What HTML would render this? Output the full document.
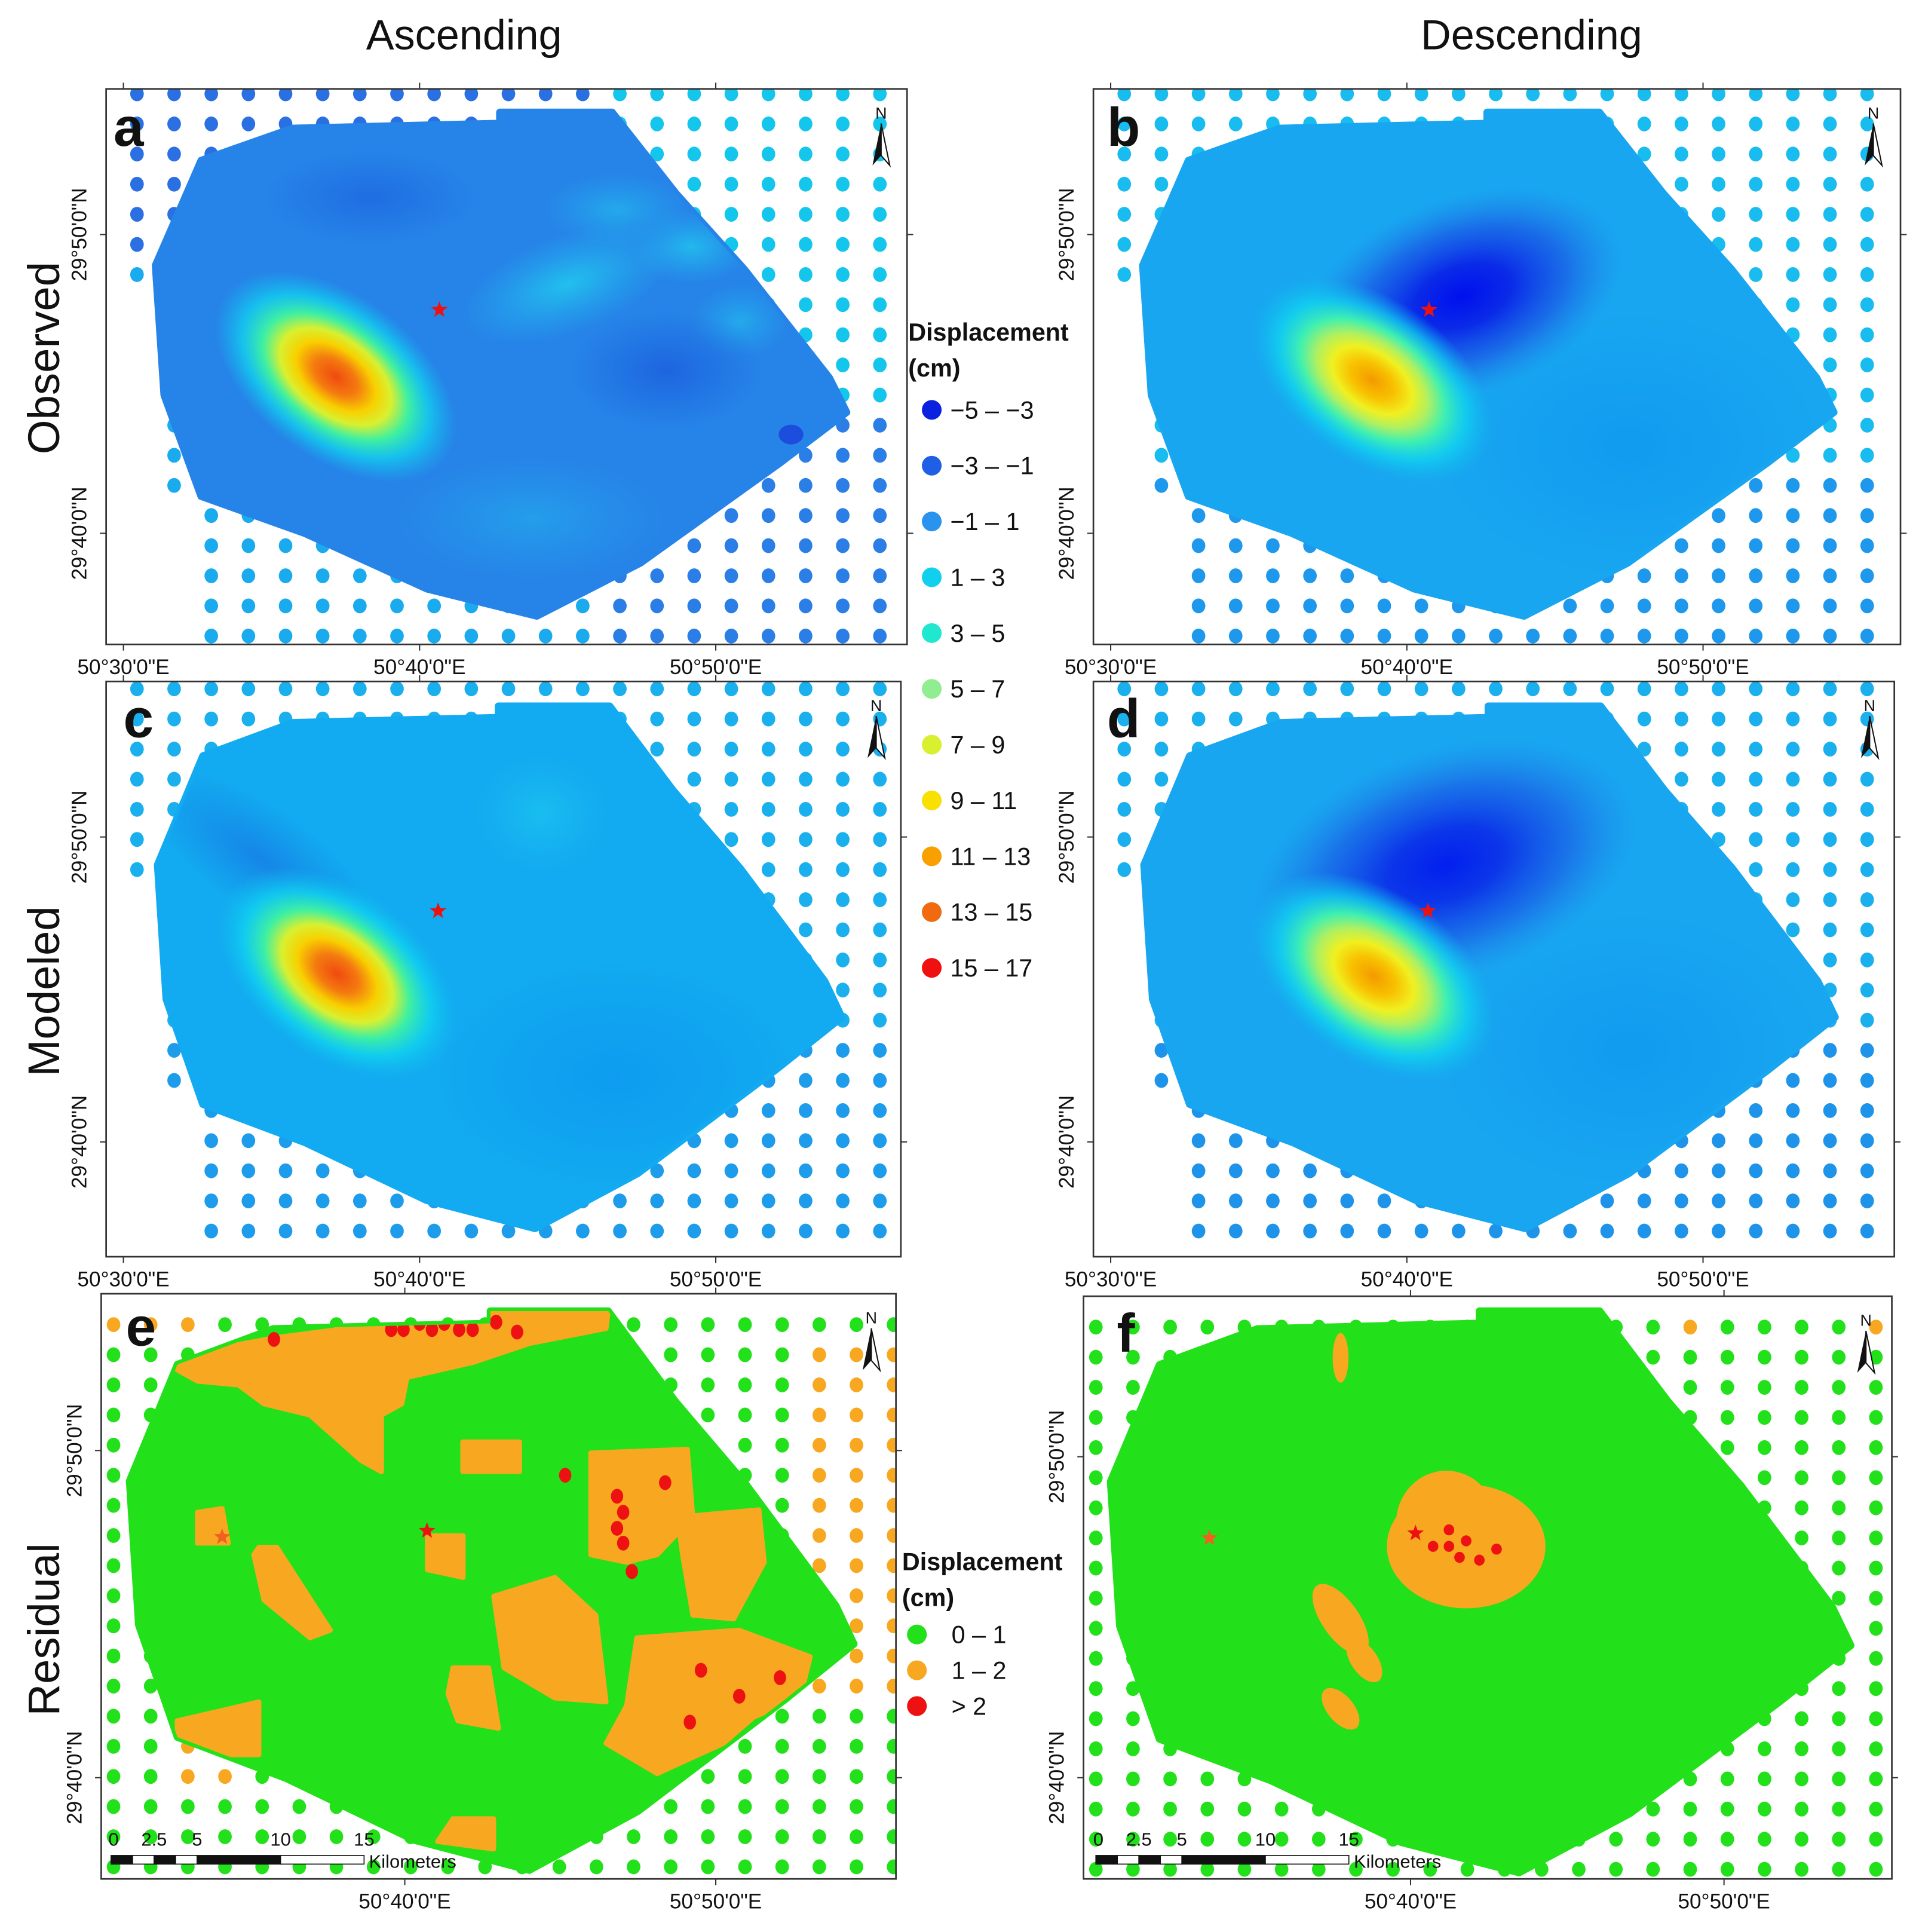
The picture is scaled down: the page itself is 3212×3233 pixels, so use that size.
<!DOCTYPE html>
<html><head><meta charset="utf-8">
<style>
html,body{margin:0;padding:0;background:#fff;}
svg{display:block;}
text{font-family:"Liberation Sans",sans-serif;}
</style></head>
<body>
<svg id="fig" xmlns="http://www.w3.org/2000/svg" width="3212" height="3233" viewBox="0 0 1555 1565" preserveAspectRatio="none">
<defs>
<radialGradient id="hotA">
<stop offset="0" stop-color="#f04a10"/><stop offset="0.18" stop-color="#f47a10"/><stop offset="0.33" stop-color="#f8d000"/><stop offset="0.46" stop-color="#d8f030"/><stop offset="0.6" stop-color="#40f0a0"/><stop offset="0.78" stop-color="#10d8f0" stop-opacity="0.7"/><stop offset="1" stop-color="#10c0f0" stop-opacity="0"/>
</radialGradient>
<radialGradient id="hotB">
<stop offset="0" stop-color="#f49a00"/><stop offset="0.18" stop-color="#f8c000"/><stop offset="0.33" stop-color="#f0f020"/><stop offset="0.46" stop-color="#b0f060"/><stop offset="0.6" stop-color="#40f0b0"/><stop offset="0.78" stop-color="#10d8f0" stop-opacity="0.7"/><stop offset="1" stop-color="#10c0f0" stop-opacity="0"/>
</radialGradient>
<radialGradient id="darkB">
<stop offset="0" stop-color="#0010ee"/><stop offset="0.3" stop-color="#0a2ae8"/><stop offset="0.65" stop-color="#1a60e6" stop-opacity="0.8"/><stop offset="1" stop-color="#2080e8" stop-opacity="0"/>
</radialGradient>
<radialGradient id="lightC">
<stop offset="0" stop-color="#20d8f0" stop-opacity="0.9"/><stop offset="1" stop-color="#20c0f0" stop-opacity="0"/>
</radialGradient>
<radialGradient id="darkA">
<stop offset="0" stop-color="#1a58dc" stop-opacity="0.9"/><stop offset="1" stop-color="#1a60dc" stop-opacity="0"/>
</radialGradient>
<radialGradient id="midC">
<stop offset="0" stop-color="#0a8ef0" stop-opacity="0.9"/><stop offset="1" stop-color="#0a8ef0" stop-opacity="0"/>
</radialGradient>
</defs>
<g id="root"></g>
</svg>
<script>
const NS="http://www.w3.org/2000/svg";
const root=document.getElementById('root');
// ---- data arrays ----
const legendLabels=["\u22125 \u2013 \u22123","\u22123 \u2013 \u22121","\u22121 \u2013 1","1 \u2013 3","3 \u2013 5","5 \u2013 7","7 \u2013 9","9 \u2013 11","11 \u2013 13","13 \u2013 15","15 \u2013 17"];
const legendColors=["#0a22e0","#1f5fe6","#2a93ee","#10d0ee","#20e8d0","#90ee90","#d8f030","#f8e000","#f8a000","#f06a10","#f01010"];
const residLabels=["0 \u2013 1","1 \u2013 2","> 2"];
const residColors=["#22e01a","#f8a820","#ee1111"];
const xTickLabels=["50\u00b030'0\"E","50\u00b040'0\"E","50\u00b050'0\"E"];
const yTickLabels=["29\u00b050'0\"N","29\u00b040'0\"N"];
const scaleLabels=["0","2.5","5","10","15"];
const basePoly=[[405,91],[496,91],[548,157],[603,218],[672,306],[686,334],[632,375],[519,456],[435,499],[346,477],[247,432],[163,402],[133,320],[126,215],[163,130],[237,104],[405,100]];
const residPatchesE=[
 [[147.7,1097.5],[222.2,1083.7],[292.5,1074.5],[400.1,1059.3],[493.2,1059.3],[491.1,1076.1],[429.0,1088.3],[383.5,1103.6],[329.8,1115.8],[325.6,1137.2],[309.1,1146.3],[309.1,1192.2],[292.5,1183.0],[251.2,1146.3],[213.9,1137.2],[193.2,1121.9],[160.1,1118.8],[143.6,1109.7]],
 [[209.8,1253.3],[224.3,1253.3],[267.7,1320.5],[251.2,1326.7],[213.9,1296.1],[205.6,1259.4]],
 [[143.6,1393.9],[209.8,1378.6],[209.8,1421.4],[180.8,1421.4],[143.6,1406.1]],
 [[400.1,1293],[449.7,1277.8],[482.8,1308.3],[491.1,1378.6],[449.7,1375.5],[408.4,1351.1]],
 [[367,1351],[396,1351],[404,1400],[371,1394],[363,1372]],
 [[478.7,1177],[557,1174],[561.4,1229],[532.5,1259.4],[507.7,1265.5],[478.7,1259.4]],
 [[549,1229],[615,1223],[619.3,1265.5],[594.5,1311.4],[561.4,1308.3],[553.1,1259.4]],
 [[516,1326.7],[598.6,1320.5],[656.6,1342],[648.3,1375.5],[611,1390.8],[586.3,1412.2],[532.5,1436.7],[491.1,1412.2],[507.7,1381.7]],
 [[346.3,1244],[375.3,1244],[375.3,1277.8],[346.3,1271.6]],
 [[367,1473.3],[400,1473.3],[400,1497.8],[354.6,1491.7]],
 [[375,1168],[421,1168],[421,1192],[375,1192]],
 [[160,1225],[180,1222],[185,1250],[160,1250]]
];
const redDotsE=[[317,1077],[327,1077],[340,1072],[350,1077],[360,1072],[372,1077],[383,1077],[222,1085],[402,1071],[419,1079],[458,1195],[539,1201],[512,1273],[568,1353],[632,1359],[599,1374],[559,1395],[500,1212],[505,1225],[500,1238],[505,1250]];
const panels=[
 {id:'a',x0:86,y0:72,x1:735,y1:522,sx:1,tx:0,sy:1,ty:0,base:'#2684e8',xt:[100,340,580],xl:[0,1,2],yt:[190,432],lx:70,letter:[92,118],star:[[356,251]],north:714,dots:{x0:111,y0:76}},
 {id:'b',x0:886,y0:72,x1:1540,y1:522,sx:1,tx:800,sy:1,ty:0,base:'#18a6f0',xt:[900,1140,1380],xl:[0,1,2],yt:[190,432],lx:870,letter:[897,118],star:[[1158,251]],north:1518,dots:{x0:911,y0:76}},
 {id:'c',x0:86,y0:552,x1:730,y1:1018,sx:0.99,tx:3,sy:1.037,ty:477.6,base:'#12aaf0',xt:[100,340,580],xl:[0,1,2],yt:[678,925],lx:70,letter:[100,597],star:[[355,738]],north:710,dots:{x0:111,y0:558}},
 {id:'d',x0:886,y0:552,x1:1535,y1:1018,sx:1,tx:801,sy:1.037,ty:477.6,base:'#18a6f0',xt:[900,1140,1380],xl:[0,1,2],yt:[678,925],lx:870,letter:[897,597],star:[[1157,738]],north:1515,dots:{x0:911,y0:558}},
 {id:'e',x0:82,y0:1048,x1:726,y1:1522,sx:1.048,tx:-27,sy:1.11,ty:961,base:'#22e01a',xt:[328,580],xl:[1,2],yt:[1175,1440],lx:66,letter:[102,1090],star:[[346,1240],[180,1245]],north:706,dots:{x0:92,y0:1073}},
 {id:'f',x0:878,y0:1050,x1:1533,y1:1522,sx:1.071,tx:765,sy:1.115,ty:960.5,base:'#22e01a',xt:[1143,1397],xl:[1,2],yt:[1180,1440],lx:862,letter:[905,1095],star:[[1147,1242],[980,1246]],north:1512,dots:{x0:888,y0:1075}}
];
function el(tag,attrs,parent){const e=document.createElementNS(NS,tag);for(const k in attrs)e.setAttribute(k,attrs[k]);(parent||root).appendChild(e);return e;}
function txt(s,attrs,parent){const t=el('text',attrs,parent);t.textContent=s;return t;}
function starPts(cx,cy,r){let p=[];for(let i=0;i<10;i++){const a=-Math.PI/2+i*Math.PI/5;const rr=i%2?r*0.42:r;p.push((cx+rr*Math.cos(a)).toFixed(1)+','+(cy+rr*Math.sin(a)).toFixed(1));}return p.join(' ');}
function dotColor(p,x,y){
 const fx=(x-p.x0)/(p.x1-p.x0), fy=(y-p.y0)/(p.y1-p.y0);
 if(p.id==='a'){ if(fx>0.6) return fy<0.6?'#14c6ec':'#2a7ee6'; return fy<0.3?'#2a70e2':'#1aaaee';}
 if(p.id==='b'){ return fy<0.7?'#18bcee':'#1e98ec';}
 if(p.id==='c'){ return fy<0.6?'#1ab0ee':'#1d9cec';}
 if(p.id==='d'){ return fy<0.6?'#1ab0ee':'#1d94ea';}
 if(p.id==='e'){ if(fx>0.9&&fy>0.1&&fy<0.6) return '#f8a820'; if(fx>0.85&&fy>0.45&&fy<0.7) return '#f8a820'; if(fx<0.4&&fy>0.75&&fy<0.85) return (fx>0.1&&fx<0.2)?'#f8a820':'#22e01a'; if(fx<0.15&&fy<0.06) return '#f8a820'; return '#22e01a';}
 if(p.id==='f'){ if(fy<0.1&&(Math.abs(fx-0.74)<0.02||fx>0.96)) return '#f8a820'; return '#22e01a';}
 return '#22e01a';
}
panels.forEach(p=>{
 const g=el('g',{});
 
 
 const cid='clip-'+p.id;
 const cp=el('clipPath',{id:cid},g);
 el('rect',{x:p.x0,y:p.y0,width:p.x1-p.x0,height:p.y1-p.y0},cp);
 const inner=el('g',{'clip-path':'url(#'+cid+')'},g);
 // dot grid
 const dg=el('g',{},inner);
 
 
 const blue='abcd'.includes(p.id);
 for(let x=p.dots.x0;x<p.x1;x+=30.1){for(let y=p.dots.y0;y<p.y1;y+=24.4){
   const rx=x-p.x0, ry=y-p.y0;
   if(blue && rx<40 && ry>170) continue;
   if(blue && rx<70 && ry>340) continue;
   el('ellipse',{cx:x.toFixed(1),cy:y.toFixed(1),rx:5.5,ry:6,fill:dotColor(p,x,y)},dg);
 }}
 // polygon
 const pts=basePoly.map(q=>[(q[0]*p.sx+p.tx),(q[1]*p.sy+p.ty)]);
 const ps=pts.map(q=>q[0].toFixed(1)+','+q[1].toFixed(1)).join(' ');
 const pid='poly-'+p.id;
 const pc=el('clipPath',{id:pid},g);
 el('polygon',{points:ps},pc);
 const poly=el('polygon',{points:ps,fill:p.base,stroke:p.base,'stroke-width':6,'stroke-linejoin':'round'},inner);
 
 
 const field=el('g',{'clip-path':'url(#'+pid+')'},inner);
 const M=(x,y)=>[x*p.sx+p.tx,y*p.sy+p.ty];
 function blob(x,y,rx,ry,rot,fill,op){const c=M(x,y);el('ellipse',{cx:c[0],cy:c[1],rx:rx*p.sx,ry:ry*p.sy,transform:`rotate(${rot} ${c[0]} ${c[1]})`,fill:fill,opacity:op||1},field);}
 if(p.id==='a'){
  blob(460,230,90,40,-20,'url(#lightC)',0.8); blob(560,200,50,30,0,'url(#lightC)',0.7); blob(430,420,110,50,0,'url(#lightC)',0.35);
  blob(500,170,60,30,0,'url(#lightC)',0.5); blob(600,260,40,30,0,'url(#lightC)',0.5);
  blob(540,300,80,50,0,'url(#darkA)',0.8); blob(300,160,90,40,0,'url(#darkA)',0.6); blob(641,352,10,8,0,'#1a40d8',0.8);
  blob(272,305,112,66,37,'url(#hotA)');
 }
 if(p.id==='b'){
  blob(520,360,160,110,0,'url(#midC)',0.5);
  blob(385,240,135,80,-20,'url(#darkB)');
  blob(312,308,110,66,35,'url(#hotB)');
 }
 if(p.id==='c'){
  blob(210,210,110,40,35,'url(#darkA)',0.5); blob(440,175,60,50,0,'url(#lightC)',0.5); blob(500,380,150,90,0,'url(#midC)',0.55);
  blob(273,300,112,66,37,'url(#hotA)');
 }
 if(p.id==='d'){
  blob(520,360,160,110,0,'url(#midC)',0.5);
  blob(370,215,160,90,-18,'url(#darkB)',0.9); blob(312,302,110,66,35,'url(#hotB)');
 }
 if(p.id==='e'){
  residPatchesE.forEach(pt=>{const q=el('polygon',{points:pt.map(v=>v.join(',')).join(' '),fill:'#f8a820',stroke:'#f8a820','stroke-width':4,'stroke-linejoin':'round'},field);
   
   });
  redDotsE.forEach(d=>{el('ellipse',{cx:d[0],cy:d[1],rx:5,ry:6,fill:'#ee1111'},field);});
 }
 if(p.id==='f'){
  const O='#f8a820';
  blob(395,262,60,45,0,O); blob(380,245,38,38,0,O);
  blob(300,315,14,30,-35,O); blob(318,345,10,18,-35,O); blob(300,380,10,18,-40,O);
  blob(300,125,6,18,0,O);
  [[370,262],[382,262],[395,258],[390,270],[405,272],[418,264],[382,250]].forEach(b=>blob(b[0],b[1],4,4,0,'#ee1111'));
 }
 // stars
 p.star.forEach((s,i)=>{const st=el('polygon',{points:starPts(s[0],s[1],7),fill:(i===1?'#f06020':'#ee1111')},inner);
  
  });
 // frame
 const fr=el('rect',{x:p.x0,y:p.y0,width:p.x1-p.x0,height:p.y1-p.y0,fill:'none',stroke:'#333','stroke-width':1.3},g);
 
 
 // ticks & labels
 p.xt.forEach((x,i)=>{
  el('line',{x1:x,x2:x,y1:p.y0-5,y2:p.y0,stroke:'#333'},g);
  el('line',{x1:x,x2:x,y1:p.y1,y2:p.y1+5,stroke:'#333'},g);
  const t=txt(xTickLabels[p.xl[i]],{x:x,y:p.y1+24,'font-size':17,'text-anchor':'middle',fill:'#111'},g);
  
  
 });
 p.yt.forEach((y,i)=>{
  el('line',{x1:p.x0-5,x2:p.x0,y1:y,y2:y,stroke:'#333'},g);
  el('line',{x1:p.x1,x2:p.x1+5,y1:y,y2:y,stroke:'#333'},g);
  const t=txt(yTickLabels[i],{x:p.lx,y:y,'font-size':17,'text-anchor':'middle',fill:'#111',transform:`rotate(-90 ${p.lx} ${y})`},g);
  
  
 });
 const L=txt(p.id,{x:p.letter[0],y:p.letter[1],'font-size':44,'font-weight':'bold',fill:'#111'},g);
 
 
 // north arrow
 const na=el('g',{},g);
 
 
 const nx=p.north, ny=p.y0+16;
 txt('N',{x:nx,y:ny+8,'font-size':13,'text-anchor':'middle',fill:'#111'},na);
 el('polygon',{points:`${nx},${ny+12} ${nx-7},${ny+46} ${nx},${ny+38}`,fill:'#111'},na);
 el('polygon',{points:`${nx},${ny+12} ${nx+7},${ny+46} ${nx},${ny+38}`,fill:'#fff',stroke:'#111','stroke-width':1},na);
 // scale bar
 if(p.id==='e'||p.id==='f'){
  const sb=el('g',{},g);
  
  
  const bx=p.id==='e'?90:888, by=1503, W=205;
  const segs=[[0,0.085,1],[0.085,0.17,0],[0.17,0.255,1],[0.255,0.34,0],[0.34,0.67,1],[0.67,1,0]];
  segs.forEach(s=>el('rect',{x:bx+s[0]*W,y:by,width:(s[1]-s[0])*W,height:7,fill:s[2]?'#111':'#fff',stroke:'#111','stroke-width':0.8},sb));
  const pos=[0.01,0.17,0.34,0.67,1];
  scaleLabels.forEach((s,i)=>txt(s,{x:bx+pos[i]*W,y:by-8,'font-size':15,'text-anchor':'middle',fill:'#111'},sb));
  txt('Kilometers',{x:bx+W+4,y:by+10,'font-size':15,fill:'#111'},sb);
 }
 root.appendChild(g);
});
// titles
[["Ascending",376,40],["Descending",1241,40]].forEach(a=>{const t=txt(a[0],{x:a[1],y:a[2],'font-size':34,'text-anchor':'middle',fill:'#111'});
 
 });
[["Observed",290],["Modeled",803],["Residual",1320]].forEach(a=>{const t=txt(a[0],{x:48,y:a[1],'font-size':36,'text-anchor':'middle',fill:'#111',transform:`rotate(-90 48 ${a[1]})`});
 
 });
// legend 1
const lg=el('g',{});


txt('Displacement',{x:736,y:276,'font-size':20,'font-weight':'bold',fill:'#111'},lg);
txt('(cm)',{x:736,y:305,'font-size':20,'font-weight':'bold',fill:'#111'},lg);
legendLabels.forEach((s,i)=>{const y=332+i*45.2;
 const c=el('circle',{cx:755,cy:y,r:8,fill:legendColors[i]},lg);
 
 
 txt(s,{x:770,y:y+7,'font-size':20,fill:'#111'},lg);});
// legend 2
const lg2=el('g',{});


txt('Displacement',{x:731,y:1272,'font-size':20,'font-weight':'bold',fill:'#111'},lg2);
txt('(cm)',{x:731,y:1301,'font-size':20,'font-weight':'bold',fill:'#111'},lg2);
residLabels.forEach((s,i)=>{const y=1324+i*29;
 const c=el('circle',{cx:743,cy:y,r:8,fill:residColors[i]},lg2);
 
 
 txt(s,{x:771,y:y+7,'font-size':20,fill:'#111'},lg2);});
</script>
</body></html>
